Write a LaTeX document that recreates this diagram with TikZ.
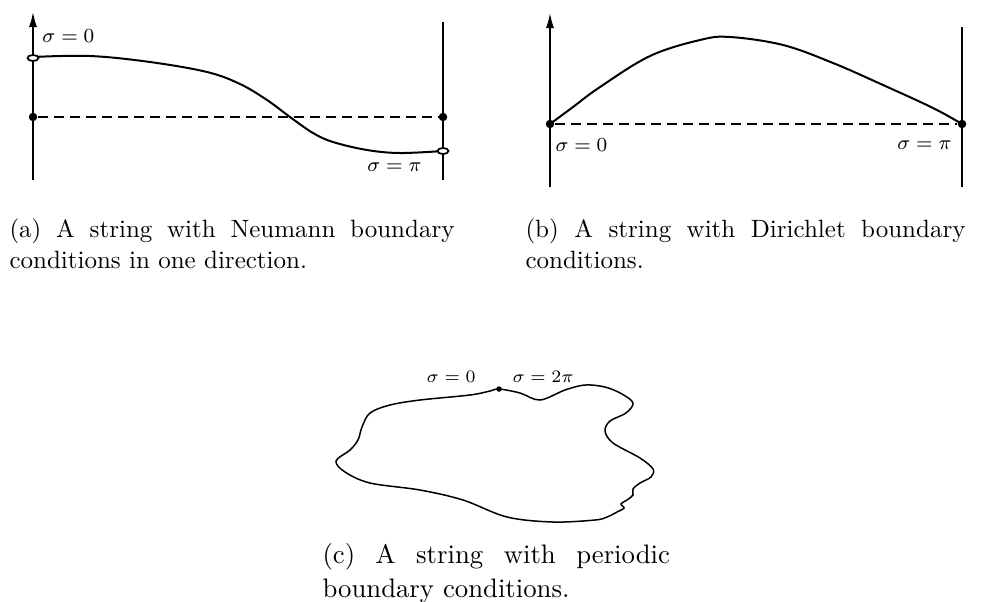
\documentclass[tikz,border=0pt]{standalone}
\usetikzlibrary{arrows.meta,shapes.geometric}
\begin{document}
\begin{tikzpicture}[x=0.4pt, y=-0.4pt,
  eixo/.style={line width=0.6pt},
  seta/.style={-{Latex[length=6pt,width=3.2pt]}},
  corda/.style={line width=0.8pt},
  base/.style={dash pattern=on 4pt off 2.4pt, line width=0.7pt},
  ponto/.style={circle, fill, inner sep=0pt, minimum size=3.4pt},
  furo/.style={ellipse, draw, line width=0.7pt, fill=white, inner sep=0pt,
               minimum width=4.4pt, minimum height=2.4pt},
  rot/.style={font=\footnotesize, inner sep=0pt},
  leg/.style={anchor=base west, inner sep=0pt, font=\fontsize{10}{12.4}\selectfont}]
\useasboundingbox (0,0) rectangle (985,601);
% (a) Neumann
\draw[eixo, seta] (33,180) -- (33,12);
\draw[eixo] (443,22) -- (443,180);
\draw[corda] plot[smooth, tension=0.6] coordinates {(33,57) (90,56) (150,62) (207,72)
  (240,84) (267,100) (290,117) (313,133) (333,142) (367,150) (400,153) (443,151)};
\node[ponto] (na) at (33,117) {};
\node[ponto] (nb) at (443,117) {};
\draw[base] (na) -- (nb);
\node[furo] (fa) at (33,58) {};
\node[furo] (fb) at (443,151) {};
\node[rot, anchor=west] (sa) at (42,36) {$\sigma = 0$};
\node[rot, anchor=east] (sb) at (422,167) {$\sigma = \pi$};
% (b) Dirichlet
\draw[eixo, seta] (550,187) -- (550,13);
\draw[eixo] (962,27) -- (962,187);
\draw[corda] plot[smooth, tension=0.6] coordinates {(550,124) (573,107) (600,87) (650,56)
  (700,40) (730,37) (783,45) (833,63) (883,85) (933,108) (962,124)};
\node[ponto] (da) at (550,124) {};
\node[ponto] (db) at (962,124) {};
\draw[base] (da) -- (db);
\node[rot, anchor=west] (sc) at (555,145) {$\sigma = 0$};
\node[rot, anchor=east] (sd) at (952,145) {$\sigma = \pi$};
% (c) periodica
\draw[line width=0.6pt] plot[smooth cycle, tension=0.55] coordinates {(499,389) (520,393)
  (540,400) (565,390) (585,385) (605,387) (622,394) (633,403) (626,413) (610,421)
  (605,431) (613,443) (640,458) (653,469) (651,477) (640,483) (633,489) (633,495)
  (627,500) (621,504) (624,508) (617,512) (607,517) (595,520) (553,522) (507,517)
  (463,500) (420,490) (370,483) (345,472) (336,461) (350,450) (358,440) (362,427)
  (370,413) (390,405) (420,400) (470,395) (490,391)};
\node[circle, fill, inner sep=0pt, minimum size=2.2pt] (pc) at (499,389) {};
\node[rot, font=\scriptsize, anchor=east] (se) at (476,377) {$\sigma = 0$};
\node[rot, font=\scriptsize, anchor=west] (sf) at (512,377) {$\sigma = 2\pi$};
% legendas
\node[leg] (la) at (9,237) {\parbox[t]{178pt}{\tolerance=10000 \hyphenpenalty=10000
  (a) A string with Neumann boundary conditions in one direction.}};
\node[leg] (lb) at (525,237) {\parbox[t]{176pt}{\tolerance=10000 \hyphenpenalty=10000
  (b) A string with Dirichlet boundary conditions.}};
\node[leg, font=\fontsize{10.7}{13.6}\selectfont] (lc) at (322,563) {\parbox[t]{139pt}{\tolerance=10000
  \hyphenpenalty=10000 (c) A string with periodic boundary conditions.}};
\end{tikzpicture}
\end{document}
